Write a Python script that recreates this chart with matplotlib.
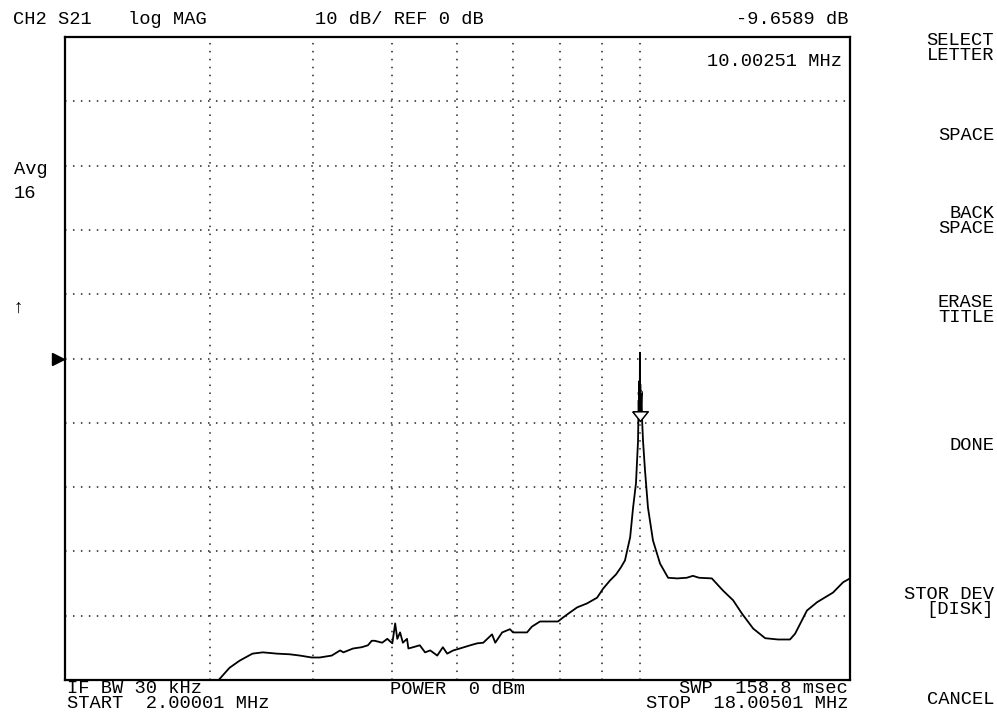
import numpy as np
import matplotlib
matplotlib.use("Agg")
import matplotlib.pyplot as plt

# CH2 S21 trace, log MAG
freq_mhz = [3.03, 3.07, 3.17, 3.26, 3.38, 3.48, 3.62, 3.75, 3.86, 3.99,
            4.08, 4.22, 4.32, 4.36, 4.48, 4.59, 4.67, 4.72, 4.76, 4.86,
            4.93, 5.00, 5.04, 5.07, 5.11, 5.15, 5.21, 5.23, 5.30, 5.40,
            5.48, 5.56, 5.67, 5.76, 5.83, 5.93, 6.04, 6.22, 6.34, 6.45,
            6.61, 6.67, 6.80, 6.95, 7.01, 7.29, 7.39, 7.56, 7.73, 7.95,
            8.06, 8.22, 8.39, 8.62, 8.87, 9.02, 9.20, 9.35, 9.48, 9.59,
            9.73, 9.81, 9.89, 9.947, 9.965, 9.975, 9.985, 9.995, 10.0, 10.00251,
            10.01, 10.025, 10.045, 10.06, 10.087, 10.143, 10.228, 10.372, 10.58, 10.82,
            11.10, 11.40, 11.60, 11.80, 12.23, 12.62, 12.98, 13.31, 13.73, 14.20,
            14.72, 15.22, 15.44, 15.96, 16.42, 17.17, 17.66, 18.005]
s21_db = [-51.0, -50.1, -48.1, -47.0, -45.9, -45.7, -45.9, -46.0, -46.2, -46.5,
          -46.5, -46.2, -45.4, -45.7, -45.1, -44.9, -44.6, -43.9, -43.9, -44.2,
          -43.6, -44.3, -41.2, -43.6, -42.6, -44.2, -43.6, -45.1, -44.9, -44.6,
          -45.7, -45.4, -46.2, -44.9, -45.9, -45.4, -45.1, -44.6, -44.3, -44.2,
          -42.9, -44.2, -42.6, -42.1, -42.6, -42.6, -41.7, -40.9, -40.9, -40.9,
          -40.3, -39.5, -38.7, -38.1, -37.2, -35.8, -34.5, -33.6, -32.5, -31.4,
          -27.8, -23.2, -19.4, -12.8, -6.5, -9.0, -3.5, -7.0, 0.9, -9.6589,
          -4.0, -8.5, -5.5, -9.5, -12.8, -17.4, -23.2, -28.3, -31.9, -34.1,
          -34.2, -34.1, -33.8, -34.1, -34.2, -36.1, -37.6, -39.7, -42.0, -43.5,
          -43.7, -43.7, -42.8, -39.2, -37.9, -36.4, -34.8, -34.2]

start_mhz = 2.00001
stop_mhz = 18.00501
ref_db = 0
scale_db = 10
grid_freqs = [3, 4, 5, 6, 7, 8, 9, 10]
marker_mhz = 10.00251
marker_db = -9.6589

W, H = 997, 721
FONT = ["Liberation Mono", "DejaVu Sans Mono", "DejaVu Sans"]
FS = 13.5
TIGHT = 0.92  # line pitch of the stacked labels


def px(x, y):
    return x / W, 1 - y / H


def label(x, y, s, ha="left", **kw):
    fig.text(*px(x, y), s, ha=ha, va="center", multialignment=ha,
             family=FONT, fontsize=FS, color="black", linespacing=TIGHT, **kw)


fig = plt.figure(figsize=(W / 100, H / 100), dpi=100, facecolor="white")
ax = fig.add_axes([65 / W, 41 / H, 785 / W, 643 / H])
ax.set_xscale("log")
ax.set_xlim(start_mhz, stop_mhz)
ax.set_ylim(ref_db - 5 * scale_db, ref_db + 5 * scale_db)
ax.tick_params(which="both", length=0, labelbottom=False, labelleft=False)
for s in ax.spines.values():
    s.set_linewidth(1.6)
    s.set_color("black")

# dotted graticule
dots = dict(color="#222222", lw=1.1, ls=(0, (1, 4.2)))
for f in grid_freqs:
    ax.axvline(f, **dots)
for k in range(-4, 5):
    ax.axhline(ref_db + k * scale_db, **dots)

ax.plot(freq_mhz, s21_db, color="black", lw=1.3)

# marker: open triangle pointing at the trace, number above it
tri = [(-0.8, 1.0), (0.8, 1.0), (0.0, 0.0), (-0.8, 1.0)]
ax.plot([marker_mhz], [marker_db], marker=tri, ms=14, mfc="white",
        mec="black", mew=1.1, ls="none", zorder=5)
ax.annotate("0", (marker_mhz, marker_db), xytext=(0, 19),
            textcoords="offset points", ha="center", va="center",
            family=FONT, fontsize=8, zorder=6)

# reference position pointer
ax.plot([-0.009], [ref_db], marker=">", ms=8, color="black",
        transform=ax.get_yaxis_transform(), clip_on=False)

# header
label(13, 19, "CH2 S21")
label(128, 19, "log MAG")
label(315, 19, f"{scale_db} dB/ REF {ref_db} dB")
label(848, 19, f"{marker_db:.4f} dB", ha="right")
label(842, 62, f"{marker_mhz:.5f} MHz", ha="right")

# left status
label(14, 169, "Avg")
label(14, 193, "16")
label(13, 308, "\u2191")

# footer
label(67, 696, f"IF BW 30 kHz\nSTART  {start_mhz:.5f} MHz")
label(390, 690, "POWER  0 dBm")
label(848, 696, f"SWP  158.8 msec\nSTOP  {stop_mhz:.5f} MHz", ha="right")

# softkeys
keys = [(48, "SELECT\nLETTER"), (136, "SPACE"), (221, "BACK\nSPACE"),
        (310, "ERASE\nTITLE"), (446, "DONE"), (602, "STOR DEV\n[DISK]"),
        (699, "CANCEL")]
for y, s in keys:
    label(994, y, s, ha="right")

fig.savefig("out.png", dpi=100, facecolor="white")
